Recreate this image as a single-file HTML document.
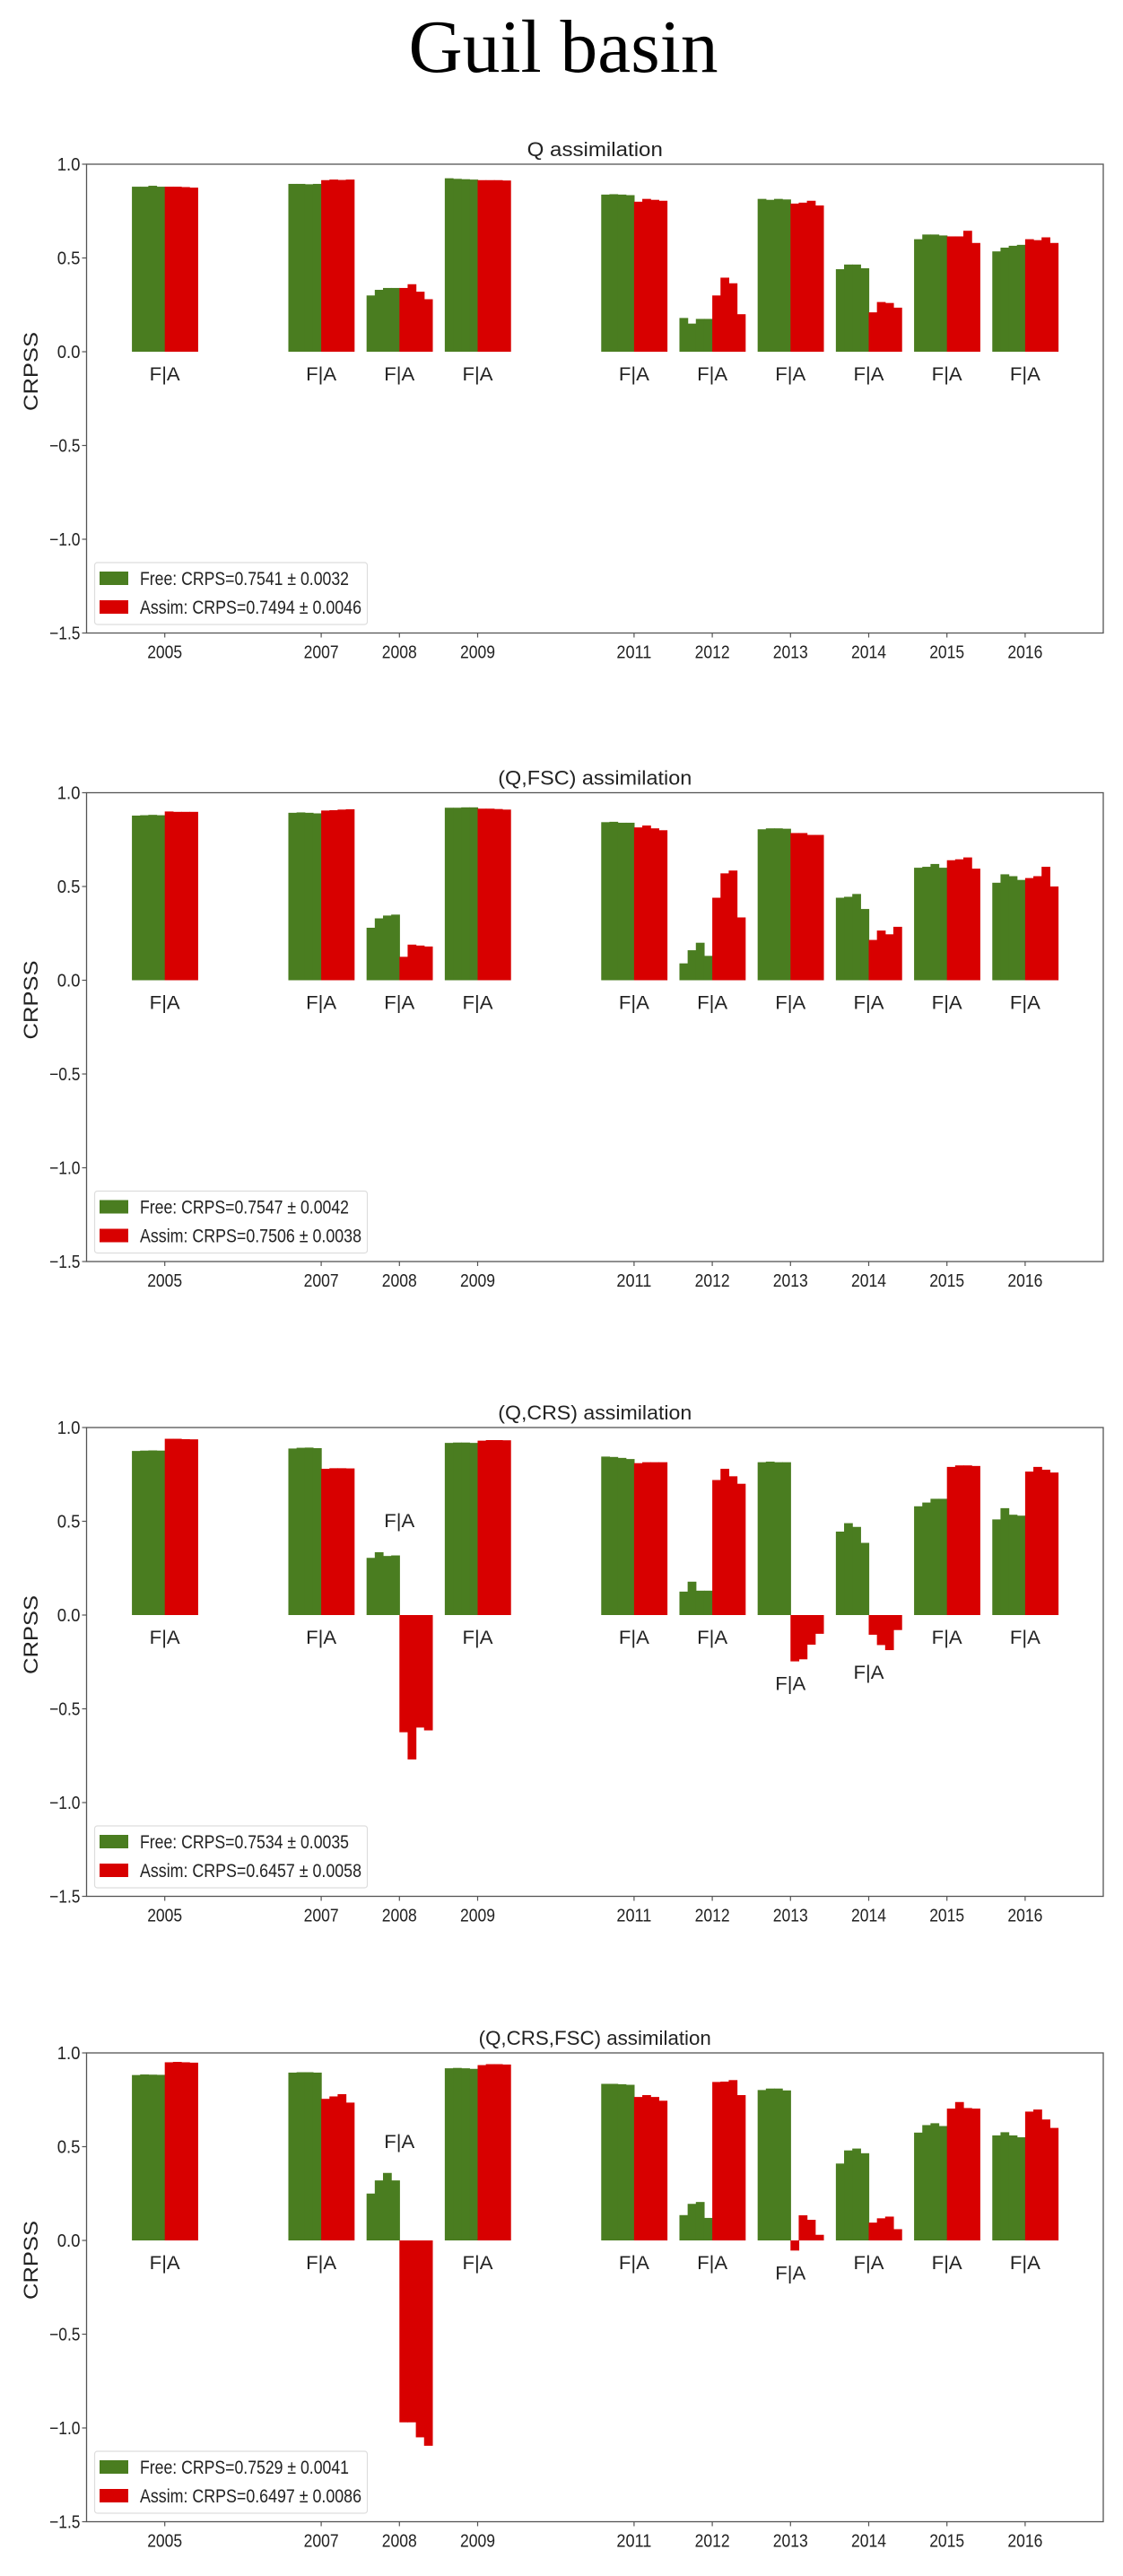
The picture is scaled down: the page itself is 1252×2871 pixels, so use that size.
<!DOCTYPE html>
<html><head><meta charset="utf-8"><style>
html,body{margin:0;padding:0;background:#fff;}
svg{display:block;}
text{font-family:"Liberation Sans","DejaVu Sans",sans-serif;fill:#222;}
</style></head><body>
<svg id="fig" xmlns="http://www.w3.org/2000/svg" width="1252" height="2871" viewBox="0 0 1252 2871">
<rect x="0" y="0" width="1252" height="2871" fill="#fff"/>
<text x="628" y="80" text-anchor="middle" textLength="345" lengthAdjust="spacingAndGlyphs" style="font-family:'Liberation Serif',serif;font-size:84px;fill:#000;">Guil basin</text>
</svg>
<script>
const years = [2005, 2007, 2008, 2009, 2011, 2012, 2013, 2014, 2015, 2016];
const yTicks = [1.0, 0.5, 0.0, -0.5, -1.0, -1.5];
const yTickLabels = ["1.0", "0.5", "0.0", "\u22120.5", "\u22121.0", "\u22121.5"];
const panelTitles = ["Q assimilation", "(Q,FSC) assimilation", "(Q,CRS) assimilation", "(Q,CRS,FSC) assimilation"];
const freeLegend = ["Free: CRPS=0.7541 \u00b1 0.0032", "Free: CRPS=0.7547 \u00b1 0.0042", "Free: CRPS=0.7534 \u00b1 0.0035", "Free: CRPS=0.7529 \u00b1 0.0041"];
const assimLegend = ["Assim: CRPS=0.7494 \u00b1 0.0046", "Assim: CRPS=0.7506 \u00b1 0.0038", "Assim: CRPS=0.6457 \u00b1 0.0058", "Assim: CRPS=0.6497 \u00b1 0.0086"];

const freeQ = [[0.88,0.88,0.885,0.88],[0.895,0.895,0.893,0.895],[0.30,0.33,0.34,0.34],[0.925,0.922,0.92,0.918],[0.838,0.84,0.838,0.835],[0.18,0.15,0.175,0.175],[0.815,0.81,0.815,0.812],[0.44,0.465,0.465,0.445],[0.60,0.625,0.625,0.62],[0.535,0.555,0.565,0.57]];
const assimQ = [[0.88,0.88,0.878,0.875],[0.915,0.918,0.916,0.918],[0.34,0.36,0.32,0.28],[0.915,0.915,0.915,0.913],[0.80,0.815,0.81,0.805],[0.30,0.395,0.365,0.20],[0.79,0.795,0.805,0.78],[0.21,0.265,0.26,0.235],[0.615,0.615,0.645,0.58],[0.60,0.595,0.61,0.58]];
const freeQF = [[0.878,0.88,0.882,0.88],[0.893,0.895,0.893,0.89],[0.28,0.33,0.345,0.35],[0.92,0.92,0.922,0.922],[0.843,0.845,0.84,0.84],[0.09,0.16,0.2,0.13],[0.805,0.81,0.81,0.808],[0.44,0.445,0.46,0.38],[0.60,0.605,0.62,0.60],[0.52,0.565,0.555,0.535]];
const assimQF = [[0.90,0.898,0.898,0.898],[0.905,0.907,0.91,0.912],[0.125,0.19,0.185,0.18],[0.915,0.915,0.913,0.91],[0.815,0.825,0.81,0.80],[0.44,0.57,0.585,0.335],[0.785,0.785,0.775,0.775],[0.215,0.265,0.245,0.285],[0.64,0.645,0.655,0.595],[0.545,0.555,0.605,0.50]];
const freeQC = [[0.875,0.877,0.878,0.877],[0.888,0.892,0.893,0.89],[0.305,0.335,0.315,0.318],[0.918,0.92,0.92,0.918],[0.845,0.843,0.838,0.832],[0.125,0.178,0.13,0.13],[0.815,0.818,0.815,0.815],[0.445,0.49,0.47,0.385],[0.58,0.60,0.62,0.62],[0.51,0.57,0.535,0.53]];
const assimQC = [[0.94,0.94,0.938,0.937],[0.78,0.783,0.783,0.782],[-0.625,-0.77,-0.6,-0.615],[0.93,0.933,0.933,0.932],[0.81,0.815,0.815,0.815],[0.72,0.78,0.74,0.70],[-0.247,-0.236,-0.158,-0.10],[-0.105,-0.16,-0.187,-0.08],[0.79,0.798,0.798,0.795],[0.765,0.79,0.775,0.76]];
const freeQCF = [[0.882,0.885,0.884,0.883],[0.895,0.897,0.897,0.895],[0.25,0.32,0.36,0.32],[0.918,0.92,0.918,0.915],[0.835,0.835,0.833,0.83],[0.135,0.195,0.205,0.12],[0.802,0.81,0.81,0.80],[0.41,0.48,0.49,0.465],[0.575,0.615,0.625,0.61],[0.56,0.577,0.56,0.55]];
const assimQCF = [[0.95,0.952,0.95,0.948],[0.755,0.768,0.78,0.735],[-0.97,-0.97,-1.05,-1.095],[0.935,0.94,0.94,0.938],[0.765,0.775,0.765,0.745],[0.845,0.847,0.855,0.775],[-0.054,0.134,0.11,0.03],[0.095,0.118,0.127,0.06],[0.703,0.738,0.706,0.703],[0.687,0.698,0.645,0.60]];

const freeSets = [freeQ, freeQF, freeQC, freeQCF];
const assimSets = [assimQ, assimQF, assimQC, assimQCF];

const NS = "http://www.w3.org/2000/svg";
const svg = document.getElementById('fig');
const panelTops = [183, 883.5, 1591, 2288];
const AX_L = 96.5, AX_R = 1230, UNIT = 209, XMIN = 2004, XPX = 87.2;
const GREEN = "#4a7d20", RED = "#d80000";
function mk(tag, attrs, parent) {
  const e = document.createElementNS(NS, tag);
  for (const k in attrs) e.setAttribute(k, attrs[k]);
  (parent || svg).appendChild(e);
  return e;
}
function xScale(yr) { return AX_L + (yr - XMIN) * XPX; }

panelTops.forEach((T, p) => {
  const g = mk('g', {});
  
  
  const yScale = v => T + (1 - v) * UNIT;
  const y0 = yScale(0), yB = yScale(-1.5);
  const title = mk('text', {x: (AX_L + AX_R) / 2, y: T - 9, 'text-anchor': 'middle', 'font-size': '22', textLength: String(panelTitles[p].length * 10.8), lengthAdjust: 'spacingAndGlyphs'}, g);
  title.textContent = panelTitles[p];
  
  
  const yl = mk('text', {x: 0, y: 0, 'text-anchor': 'middle', 'font-size': '22', textLength: '88', lengthAdjust: 'spacingAndGlyphs', transform: 'translate(42,' + (T + 231) + ') rotate(-90)'}, g);
  yl.textContent = 'CRPSS';
  
  
  yTicks.forEach((t, i) => {
    const yy = yScale(t);
    mk('line', {x1: AX_L - 5, x2: AX_L, y1: yy, y2: yy, stroke: '#555', 'stroke-width': 1.2}, g);
    const tl = mk('text', {x: AX_L - 7, y: yy + 7, 'text-anchor': 'end', 'font-size': '20', textLength: String(yTickLabels[i].length * 8.6), lengthAdjust: 'spacingAndGlyphs'}, g);
    tl.textContent = yTickLabels[i];
    
    
  });
  const fr = freeSets[p], as = assimSets[p];
  const sw = 0.42 * XPX / 4;
  years.forEach((yr, j) => {
    const xc = xScale(yr);
    mk('line', {x1: xc, x2: xc, y1: yB, y2: yB + 5, stroke: '#555', 'stroke-width': 1.2}, g);
    const xl = mk('text', {x: xc, y: yB + 28, 'text-anchor': 'middle', 'font-size': '20', textLength: '39', lengthAdjust: 'spacingAndGlyphs'}, g);
    xl.textContent = String(yr);
    
    
    [[fr[j], GREEN, -4, 'free'], [as[j], RED, 0, 'assim']].forEach(([vals, col, off, nm]) => {
      vals.forEach((v, i) => {
        const yv = yScale(v);
        const r = mk('rect', {x: xc + (off + i) * sw, y: Math.min(yv, y0), width: sw + 0.6, height: Math.abs(yv - y0), fill: col}, g);
        
        
      });
    });
    const minA = Math.min(...as[j]), minAll = Math.min(0, ...as[j], ...fr[j]);
    let ly;
    if (minA < -0.5) ly = yScale(Math.max(...fr[j])) - 28;
    else ly = yScale(minAll) + 32;
    const fa = mk('text', {x: xc, y: ly, 'text-anchor': 'middle', 'font-size': '21', textLength: '34', lengthAdjust: 'spacingAndGlyphs'}, g);
    fa.textContent = 'F|A';
    
    
  });
  const frame = mk('rect', {x: AX_L, y: T, width: AX_R - AX_L, height: yB - T, fill: 'none', stroke: '#555', 'stroke-width': 1.3}, g);
  
  
  const lg = mk('g', {}, g);
  
  
  const LT = T + 444;
  mk('rect', {x: 105.5, y: LT, width: 304, height: 69, rx: 3, fill: '#fff', stroke: '#ddd', 'stroke-width': 1.2}, lg);
  mk('rect', {x: 111, y: LT + 10, width: 32, height: 15, fill: GREEN}, lg);
  mk('rect', {x: 111, y: LT + 42, width: 32, height: 15, fill: RED}, lg);
  const t1 = mk('text', {x: 156, y: LT + 25, 'font-size': '21', textLength: '233', lengthAdjust: 'spacingAndGlyphs'}, lg);
  t1.textContent = freeLegend[p];
  
  
  const t2 = mk('text', {x: 156, y: LT + 57, 'font-size': '21', textLength: '247', lengthAdjust: 'spacingAndGlyphs'}, lg);
  t2.textContent = assimLegend[p];
  
  
});
</script>
</body></html>
